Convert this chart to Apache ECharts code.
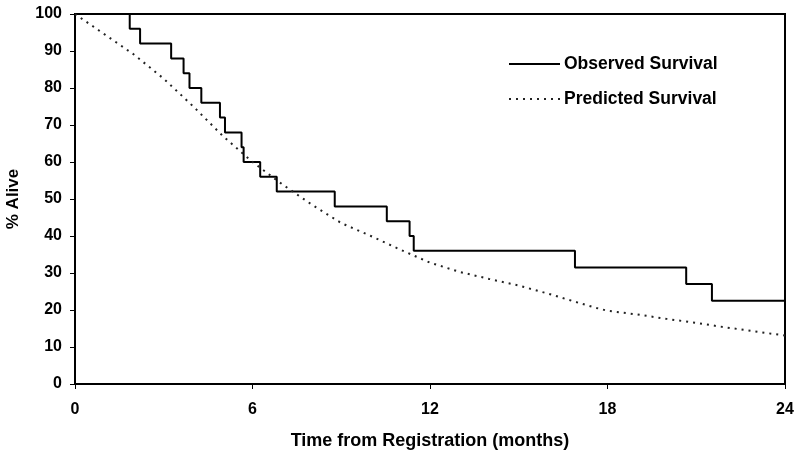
<!DOCTYPE html>
<html>
<head>
<meta charset="utf-8">
<script src="https://cdn.jsdelivr.net/npm/echarts@6/dist/echarts.min.js"></script>
<style>html,body{margin:0;padding:0;background:#fff}#c{width:800px;height:456px}</style>
</head>
<body>
<div id="c"></div>
<script>
const obsTimes = [0, 1.85, 2.2, 3.25, 3.67, 3.87, 4.27, 4.9, 5.07, 5.63, 5.7, 6.26, 6.82, 8.78, 10.54, 11.31, 11.45, 16.9, 20.66, 21.53, 24];
const obsValues = [100, 96, 92, 88, 84, 80, 76, 72, 68, 64, 60, 56, 52, 48, 44, 40, 36, 31.5, 27, 22.5, 22.5];
const predTimes = [0, 1, 2, 3, 4, 5, 6, 7, 8, 9, 10, 11, 12, 13, 14, 15, 16, 17, 17.6, 18, 19, 20, 21, 22, 23, 24];
const predValues = [100, 94.5, 89, 82.5, 75, 67, 60, 54, 48.5, 43.5, 40, 36.3, 32.8, 30.3, 28.4, 26.6, 24.4, 22, 20.6, 19.8, 18.8, 17.6, 16.5, 15.3, 14.2, 13.1];
const xTicks = [0, 6, 12, 18, 24];
const seriesNames = ['Observed Survival', 'Predicted Survival'];
const xTitle = 'Time from Registration (months)';
const yTitle = '% Alive';

const FONT = '"Liberation Sans", Arial, sans-serif';
const chart = echarts.init(document.getElementById('c'), null, {renderer: 'canvas'});
chart.setOption({
  animation: false,
  backgroundColor: '#fff',
  grid: {left: 75, right: 15, top: 14, bottom: 72, show: true, borderColor: '#000', borderWidth: 2,
    backgroundColor: 'transparent', containLabel: false, outerBoundsMode: 'none'},
  legend: {
    left: 508, top: 55, padding: 0, orient: 'vertical', itemWidth: 51, itemHeight: 14, itemGap: 17,
    itemStyle: {opacity: 0},
    textStyle: {fontFamily: FONT, fontWeight: 'bold', fontSize: 17.5, color: '#000', padding: [0, 0, 0, -1]},
    data: seriesNames
  },
  xAxis: {
    type: 'value', min: 0, max: 24, interval: 6,
    name: xTitle, nameLocation: 'middle', nameGap: 48,
    nameTextStyle: {fontFamily: FONT, fontWeight: 'bold', fontSize: 18, color: '#000'},
    axisLine: {show: true, onZero: false, lineStyle: {color: '#000', width: 2}},
    axisTick: {show: true, length: 5, lineStyle: {color: '#000', width: 1}},
    axisLabel: {margin: 18, fontFamily: FONT, fontWeight: 'bold', fontSize: 16, color: '#000',
      formatter: v => xTicks.includes(v) ? String(v) : ''},
    splitLine: {show: false}
  },
  yAxis: {
    type: 'value', min: 0, max: 100, interval: 10,
    name: yTitle, nameLocation: 'middle', nameGap: 53, nameRotate: 90,
    nameTextStyle: {fontFamily: FONT, fontWeight: 'bold', fontSize: 17, color: '#000'},
    axisLine: {show: true, lineStyle: {color: '#000', width: 2}},
    axisTick: {show: true, length: 5, lineStyle: {color: '#000', width: 1}},
    axisLabel: {margin: 13, fontFamily: FONT, fontWeight: 'bold', fontSize: 16, color: '#000'},
    splitLine: {show: false}
  },
  series: [
    {
      name: seriesNames[0], type: 'line', step: 'end', symbol: 'none', showSymbol: false,
      lineStyle: {color: '#000', width: 2},
      itemStyle: {color: '#000'},
      data: obsTimes.map((t, i) => [t, obsValues[i]])
    },
    {
      name: seriesNames[1], type: 'line', smooth: false, symbol: 'none', showSymbol: false,
      lineStyle: {color: '#222', width: 2, type: [2, 5]},
      itemStyle: {color: '#222'},
      data: predTimes.map((t, i) => [t, predValues[i]])
    }
  ]
});
</script>
</body>
</html>
